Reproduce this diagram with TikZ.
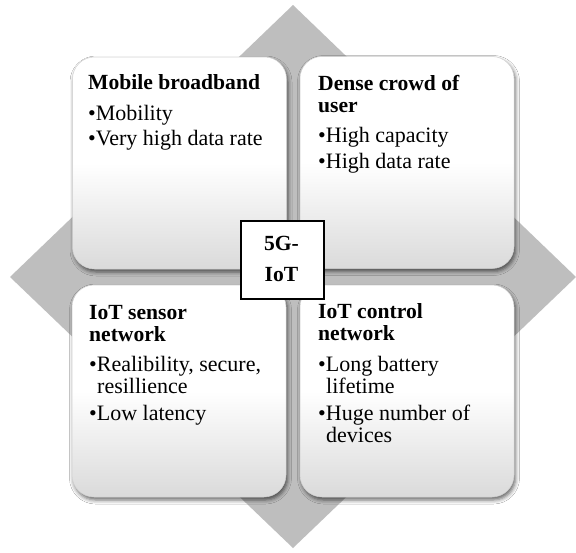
\documentclass[tikz,border=0pt]{standalone}
\usepackage{fontspec}
\setmainfont{Liberation Serif}
\usetikzlibrary{shadows.blur}
\definecolor{dgray}{HTML}{BEBEBE}
\definecolor{boxbot}{HTML}{DADADA}
\begin{document}
\begin{tikzpicture}[x=1pt,y=-1pt,
  quad/.style={rounded corners=22pt, inner sep=0, minimum width=214pt, minimum height=212pt,
    draw=black!18, line width=0.5pt,
    top color=white, bottom color=boxbot, middle color=white,
    blur shadow={shadow xshift=1.5pt,shadow yshift=-3pt,shadow blur radius=4pt,shadow opacity=60}},
  ttl/.style={anchor=base west, inner sep=0, font=\fontsize{21.6}{22}\selectfont\bfseries},
  txt/.style={anchor=base west, inner sep=0, font=\fontsize{22}{22}\selectfont},
  ctr/.style={anchor=base, inner sep=0, font=\fontsize{21.6}{22}\selectfont\bfseries},
  hub/.style={draw=black, line width=2pt, fill=white, inner sep=0, minimum width=83pt, minimum height=78pt}]
\useasboundingbox (0,0) rectangle (576,552);
\fill[white] (0,0) rectangle (576,552);
% background diamond
\fill[dgray] (293,5) -- (576,277) -- (293,548) -- (10,277) -- cycle;
% quadrant boxes
\node[quad] (tl) at (179.5,163) {};
\node[quad] (tr) at (407,162.5) {};
\node[quad] (bl) at (179,391) {};
\node[quad] (br) at (407,391) {};
% top-left texts
\node[ttl] (tla) at (88,89) {Mobile broadband};
\node[txt] (tlb) at (88,120.5) {•Mobility};
\node[txt] (tlc) at (88,145.5) {•Very high data rate};
% top-right texts
\node[ttl] (tra) at (318,90) {Dense crowd of};
\node[ttl] (trb) at (318,112) {user};
\node[txt] (trc) at (318,142.5) {•High capacity};
\node[txt] (trd) at (318,168.5) {•High data rate};
% bottom-left texts
\node[ttl] (bla) at (89,319) {IoT sensor};
\node[ttl] (blb) at (89,341) {network};
\node[txt] (blc) at (89,371.5) {•Realibility, secure,};
\node[txt] (bld) at (97,393.5) {resillience};
\node[txt] (ble) at (89,420) {•Low latency};
% bottom-right texts
\node[ttl] (bra) at (318,318) {IoT control};
\node[ttl] (brb) at (318,340) {network};
\node[txt] (brc) at (318,371.5) {•Long battery};
\node[txt] (brd) at (326,393) {lifetime};
\node[txt] (bre) at (318,420) {•Huge number of};
\node[txt] (brf) at (326,442) {devices};
% centre hub
\node[hub] (hub) at (282.5,260) {};
\node[ctr] (huba) at (281.5,250) {5G-};
\node[ctr] (hubb) at (281.5,281.5) {IoT};
\end{tikzpicture}
\end{document}
